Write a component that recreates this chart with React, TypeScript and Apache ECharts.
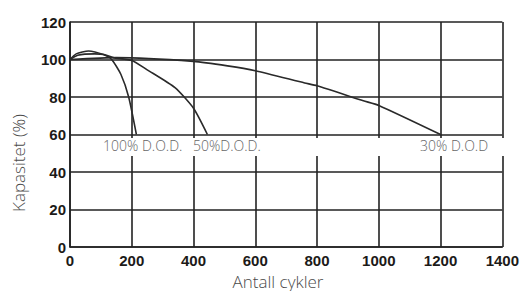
import React, { useEffect, useRef } from "react";
import * as echarts from "echarts";

const xTicks = [0, 200, 400, 600, 800, 1000, 1200, 1400];
const yTicks = [0, 20, 40, 60, 80, 100, 120];

const dod100X = [0, 20, 60, 110, 135, 165, 190, 215];
const dod100Y = [100, 103, 104.5, 102.5, 100, 92, 80, 60];

const dod50X = [0, 25, 80, 110, 140, 200, 250, 340, 400, 445];
const dod50Y = [100, 102.3, 103, 102.7, 101, 99.5, 94.5, 85, 74, 60];

const dod30X = [0, 150, 400, 510, 600, 760, 800, 950, 1000, 1200];
const dod30Y = [100, 101, 99, 96.6, 94, 87.5, 86, 78, 75.5, 60];

const seriesLabels = ["100% D.O.D.", "50%D.O.D.", "30% D.O.D"];
const xName = "Antall cykler";
const yName = "Kapasitet (%)";

const zip = (xs: number[], ys: number[]) => xs.map((x, i) => [x, ys[i]]);

export default function App() {
  const ref = useRef<HTMLDivElement>(null);
  useEffect(() => {
    document.body.style.margin = "0";
    if (!ref.current) return;
    const chart = echarts.init(ref.current, null, { renderer: "svg" });
    const lineCol = "#222";
    const tickFont = {
      fontFamily: "Liberation Sans, Arial, sans-serif",
      fontWeight: "bold" as const,
      fontSize: 15,
      color: "#1c1a18",
    };
    const lightFont = "Open Sans, Roboto, sans-serif";
    const mk = (name: string, xs: number[], ys: number[]) => ({
      name,
      type: "line",
      data: zip(xs, ys),
      showSymbol: false,
      smooth: 0.2,
      lineStyle: { color: "#2a2a2a", width: 1.6 },
      z: 3,
    });
    chart.setOption({
      animation: false,
      backgroundColor: "#fff",
      grid: { left: 70, right: 10, top: 22, bottom: 44, containLabel: false },
      xAxis: {
        type: "value",
        min: xTicks[0],
        max: xTicks[xTicks.length - 1],
        interval: xTicks[1] - xTicks[0],
        axisLine: { show: true, lineStyle: { color: lineCol, width: 1.6 } },
        axisTick: { show: false },
        axisLabel: { ...tickFont, margin: 6, formatter: (v: number) => String(v) },
        splitLine: { show: true, lineStyle: { color: lineCol, width: 1.6 } },
      },
      yAxis: {
        type: "value",
        min: yTicks[0],
        max: yTicks[yTicks.length - 1],
        interval: yTicks[1] - yTicks[0],
        axisLine: { show: true, lineStyle: { color: lineCol, width: 1.6 } },
        axisTick: { show: false },
        axisLabel: { ...tickFont, margin: 4, formatter: (v: number) => String(v) },
        splitLine: { show: true, lineStyle: { color: lineCol, width: 1.6 } },
      },
      series: [
        mk(seriesLabels[0], dod100X, dod100Y),
        mk(seriesLabels[1], dod50X, dod50Y),
        mk(seriesLabels[2], dod30X, dod30Y),
      ],
      graphic: [
        {
          type: "rect",
          shape: { x: 71.5, y: 138, width: 439, height: 18 },
          style: { fill: "#fff" },
          z: 10,
        },
        {
          type: "text",
          x: 103,
          y: 145,
          style: {
            text: seriesLabels[0],
            font: `300 14px ${lightFont}`,
            fill: "#666",
            align: "left",
            verticalAlign: "middle",
          },
          z: 11,
        },
        {
          type: "text",
          x: 193,
          y: 145,
          style: {
            text: seriesLabels[1],
            font: `300 14px ${lightFont}`,
            fill: "#666",
            align: "left",
            verticalAlign: "middle",
          },
          z: 11,
        },
        {
          type: "text",
          x: 420,
          y: 145,
          style: {
            text: seriesLabels[2],
            font: `300 14px ${lightFont}`,
            fill: "#666",
            align: "left",
            verticalAlign: "middle",
          },
          z: 11,
        },
        {
          type: "text",
          x: 278,
          y: 281,
          style: {
            text: xName,
            font: `300 17px ${lightFont}`,
            fill: "#4a4a4a",
            align: "center",
            verticalAlign: "middle",
          },
          z: 11,
        },
        {
          type: "text",
          x: 18,
          y: 163,
          rotation: Math.PI / 2,
          style: {
            text: yName,
            font: `300 17px ${lightFont}`,
            fill: "#4a4a4a",
            align: "center",
            verticalAlign: "middle",
          },
          z: 11,
        },
      ],
    });
    return () => chart.dispose();
  }, []);
  return <div ref={ref} style={{ width: 522, height: 291 }} />;
}
